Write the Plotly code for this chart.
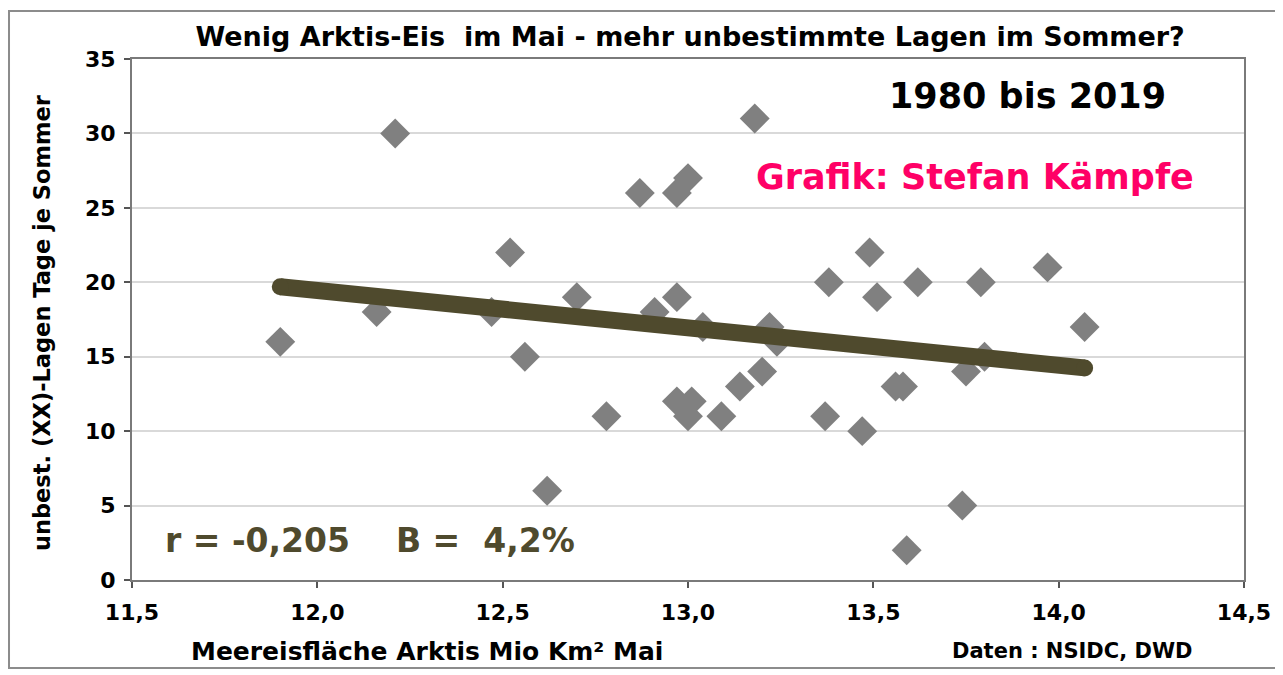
import numpy as np
import plotly.graph_objects as go

# Meereisfläche Arktis (Mio km², Mai) and unbestimmte Lagen (Tage je Sommer)
ice_may = [11.90, 12.16, 12.21, 12.47, 12.52, 12.56, 12.62, 12.70, 12.78, 12.87,
           12.91, 12.97, 12.97, 13.00, 13.04, 12.97, 13.01, 13.00, 13.09, 13.14,
           13.20, 13.18, 13.22, 13.24, 13.37, 13.38, 13.47, 13.49, 13.51, 13.56,
           13.58, 13.59, 13.62, 13.74, 13.75, 13.79, 13.80, 13.97, 14.07]
xx_days = [16, 18, 30, 18, 22, 15, 6, 19, 11, 26,
           18, 26, 19, 27, 17, 12, 12, 11, 11, 13,
           14, 31, 17, 16, 11, 20, 10, 22, 19, 13,
           13, 2, 20, 5, 14, 20, 15, 21, 17]

x_ticks = [11.5, 12.0, 12.5, 13.0, 13.5, 14.0, 14.5]
y_ticks = [0, 5, 10, 15, 20, 25, 30, 35]

title_text = "Wenig Arktis-Eis  im Mai - mehr unbestimmte Lagen im Sommer?"
period_text = "1980 bis 2019"
author_text = "Grafik: Stefan Kämpfe"
stats_text = "r = -0,205    B =  4,2%"
x_title = "Meereisfläche Arktis Mio Km² Mai"
y_title = "unbest. (XX)-Lagen Tage je Sommer"
source_text = "Daten : NSIDC, DWD"

FONT = "DejaVu Sans"
OLIVE = "#4f4a2d"

# linear trend
xa = np.array(ice_may)
ya = np.array(xx_days)
slope, intercept = np.polyfit(xa, ya, 1)
trend_x = [xa.min(), xa.max()]
trend_y = [slope * v + intercept for v in trend_x]

fig = go.Figure()
fig.add_trace(go.Scatter(
    x=ice_may, y=xx_days, mode="markers",
    marker=dict(symbol="diamond", size=23, color="#808080", line=dict(width=0)),
    showlegend=False, hoverinfo="x+y"))
fig.add_trace(go.Scatter(
    x=trend_x, y=trend_y, mode="lines+markers",
    line=dict(color=OLIVE, width=17),
    marker=dict(symbol="circle", size=17, color=OLIVE, line=dict(width=0)),
    showlegend=False, hoverinfo="skip"))

fig.update_layout(
    width=1275, height=667,
    margin=dict(l=124, r=39, t=51, b=95),
    paper_bgcolor="white", plot_bgcolor="white",
    separators=",.",
    font=dict(family=FONT, color="black", size=22, weight="bold"),
    title=dict(text=title_text, x=0.535, y=0.9565, xanchor="center", yanchor="middle",
               font=dict(family=FONT, size=27, color="black", weight="bold")),
    xaxis=dict(range=[11.5, 14.5], tickvals=x_ticks, tickformat=".1f",
               showgrid=False, zeroline=False,
               showline=True, linecolor="#7a7a7a", linewidth=2, mirror=True,
               ticks="outside", ticklen=6, tickcolor="#555555", tickwidth=1.5,
               ticklabelstandoff=6,
               tickfont=dict(family=FONT, size=22, color="black", weight="bold")),
    yaxis=dict(range=[0, 35], tickvals=y_ticks,
               showgrid=True, gridcolor="#d9d9d9", gridwidth=1.5, zeroline=False,
               showline=True, linecolor="#7a7a7a", linewidth=2, mirror=True,
               ticks="outside", ticklen=6, tickcolor="#555555", tickwidth=1.5,
               ticklabelstandoff=4,
               tickfont=dict(family=FONT, size=22, color="black", weight="bold")),
    shapes=[dict(type="rect", xref="paper", yref="paper",
                 x0=-0.1106, x1=1.0315, y0=-0.169, y1=1.092,
                 line=dict(color="#8c8c8c", width=2), fillcolor="rgba(0,0,0,0)",
                 layer="below")],
    annotations=[
        dict(text=period_text, xref="x", yref="y", x=13.917, y=32.5,
             showarrow=False, xanchor="center", yanchor="middle",
             font=dict(family=FONT, size=35, color="black", weight="bold")),
        dict(text=author_text, xref="x", yref="y", x=13.774, y=27.1,
             showarrow=False, xanchor="center", yanchor="middle",
             font=dict(family=FONT, size=35, color="#ff0066", weight="bold")),
        dict(text=stats_text, xref="x", yref="y", x=11.584, y=2.66,
             showarrow=False, xanchor="left", yanchor="middle",
             font=dict(family=FONT, size=33, color=OLIVE, weight="bold")),
        dict(text=y_title, xref="paper", yref="paper", x=-0.081, y=0.495,
             textangle=-90, showarrow=False, xanchor="center", yanchor="middle",
             font=dict(family=FONT, size=22.5, color="black", weight="bold")),
        dict(text=x_title, xref="paper", yref="paper", x=0.265, y=-0.138,
             showarrow=False, xanchor="center", yanchor="middle",
             font=dict(family=FONT, size=25, color="black", weight="bold")),
        dict(text=source_text, xref="paper", yref="paper", x=0.846, y=-0.136,
             showarrow=False, xanchor="center", yanchor="middle",
             font=dict(family=FONT, size=21, color="black", weight="bold")),
    ],
)

fig.write_html("out.html")
